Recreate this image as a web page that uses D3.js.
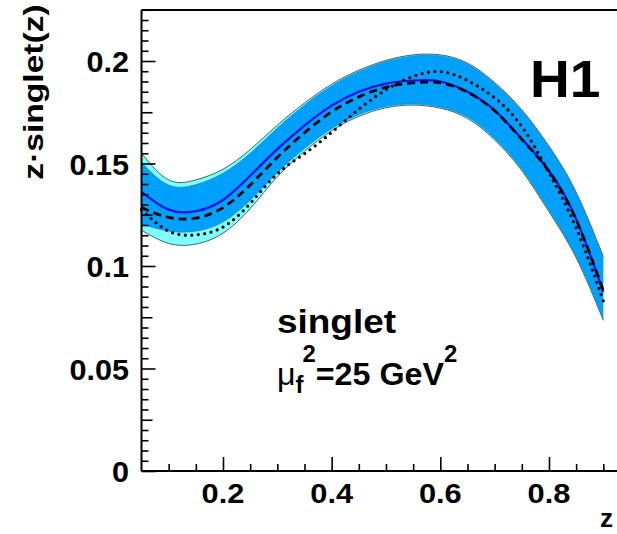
<!DOCTYPE html>
<html><head><meta charset="utf-8">
<script src="https://cdn.jsdelivr.net/npm/d3@7"></script>
<style>
html,body{margin:0;padding:0;background:#fff;overflow:hidden}
text{font-family:"Liberation Sans",Arial,Helvetica,sans-serif;font-weight:bold;fill:#000}
</style></head><body>
<svg id="chart" width="617" height="534"></svg>
<script>
const zVals   = [0.05,0.10,0.15,0.20,0.25,0.30,0.35,0.40,0.45,0.50,0.55,0.60,0.65,0.70,0.75,0.80,0.85,0.90];
const central = [0.1362,0.1275,0.1267,0.1322,0.1440,0.1570,0.1685,0.1782,0.1850,0.1890,0.1905,0.1900,0.1850,0.1760,0.1620,0.1465,0.1230,0.0873];
const outerUp = [0.1550,0.1420,0.1420,0.1472,0.1568,0.1687,0.1795,0.1887,0.1955,0.2003,0.2030,0.2030,0.1990,0.1895,0.1762,0.1585,0.1360,0.1046];
const innerUp = [0.1505,0.1395,0.1397,0.1452,0.1550,0.1673,0.1785,0.1879,0.1949,0.1998,0.2025,0.2025,0.1985,0.1890,0.1757,0.1580,0.1355,0.1040];
const innerLo = [0.1205,0.1170,0.1170,0.1215,0.1320,0.1455,0.1573,0.1670,0.1738,0.1778,0.1790,0.1775,0.1727,0.1622,0.1472,0.1272,0.1047,0.0742];
const outerLo = [0.1175,0.1110,0.1107,0.1160,0.1280,0.1435,0.1560,0.1660,0.1730,0.1772,0.1785,0.1770,0.1720,0.1615,0.1465,0.1265,0.1040,0.0735];
const dashed  = [0.1285,0.1237,0.1234,0.1285,0.1395,0.1530,0.1650,0.1752,0.1825,0.1872,0.1893,0.1893,0.1848,0.1757,0.1618,0.1462,0.1225,0.0880];
const dotted  = [0.1275,0.1170,0.1152,0.1190,0.1305,0.1450,0.1548,0.1652,0.1765,0.1860,0.1925,0.1948,0.1905,0.1820,0.1680,0.1455,0.1185,0.0830];
const xMajorTicks = [0.2,0.4,0.6,0.8];
const xTickLabels = ["0.2","0.4","0.6","0.8"];
const yMajorTicks = [0,0.05,0.1,0.15,0.2];
const yTickLabels = ["0","0.05","0.1","0.15","0.2"];

const svg = d3.select("#chart");
const L = 141.5, B = 471, T = 10;
const x = d3.scaleLinear().domain([0.05,0.95]).range([L, L + 0.9*543.3]);
const y = d3.scaleLinear().domain([0,0.225]).range([B, B - 0.225*2050]);

const band = (up, lo) => d3.area().x((d,i)=>x(zVals[i])).y0((d,i)=>y(lo[i])).y1((d,i)=>y(up[i])).curve(d3.curveNatural)(zVals);
const line = arr => d3.line().x((d,i)=>x(zVals[i])).y((d,i)=>y(arr[i])).curve(d3.curveNatural)(zVals);

svg.append("path").attr("d", band(outerUp, outerLo)).attr("fill","#80ffff").attr("stroke","none");
svg.append("path").attr("d", line(outerUp)).attr("fill","none").attr("stroke","#3a6a6a").attr("stroke-width",1);
svg.append("path").attr("d", line(outerLo)).attr("fill","none").attr("stroke","#3a6a6a").attr("stroke-width",1);
svg.append("path").attr("d", band(innerUp, innerLo)).attr("fill","#00a0ff").attr("stroke","none");
svg.append("path").attr("d", line(innerUp)).attr("fill","none").attr("stroke","#2a7aa0").attr("stroke-width",0.6);
svg.append("path").attr("d", line(innerLo)).attr("fill","none").attr("stroke","#2a7aa0").attr("stroke-width",0.6);
svg.append("path").attr("d", line(central)).attr("fill","none").attr("stroke","#1010e8").attr("stroke-width",2.2);
svg.append("path").attr("d", line(dashed)).attr("fill","none").attr("stroke","#000").attr("stroke-width",2.8).attr("stroke-dasharray","8,5");
svg.append("path").attr("d", line(dotted)).attr("fill","none").attr("stroke","#000").attr("stroke-width",3.2).attr("stroke-dasharray","0,6.5").attr("stroke-linecap","round");

// axes
const xAxis = d3.axisBottom(x).tickValues(d3.range(0.1,0.951,0.05)).tickSize(-7).tickFormat("");
const gx = svg.append("g").attr("transform",`translate(0,${B})`).call(xAxis);
gx.select(".domain").remove();
gx.selectAll(".tick line").attr("stroke","#000").attr("stroke-width",1.6).attr("y2", d => xMajorTicks.some(m=>Math.abs(m-d)<1e-6) ? -14 : -7);

const yAxis = d3.axisLeft(y).tickValues(d3.range(0,0.2251,0.005)).tickSize(-7).tickFormat("");
const gy = svg.append("g").attr("transform",`translate(${L},0)`).call(yAxis);
gy.select(".domain").remove();
gy.selectAll(".tick line").attr("stroke","#000").attr("stroke-width",1.6).attr("x2", d => {
  const r = Math.round(d*1000);
  if (r % 50 === 0) return 14;
  if (r % 25 === 0) return 11;
  return 7;
});

svg.append("line").attr("x1",L).attr("x2",617).attr("y1",B).attr("y2",B).attr("stroke","#000").attr("stroke-width",2);
svg.append("line").attr("x1",L).attr("x2",L).attr("y1",T).attr("y2",B).attr("stroke","#000").attr("stroke-width",2);
svg.append("line").attr("x1",L).attr("x2",617).attr("y1",T).attr("y2",T).attr("stroke","#000").attr("stroke-width",2);

// stretched text helper (reference font is a little wider than Liberation Sans)
function stext(px, py, size, sx, anchor, str, rot) {
  const tr = `translate(${px},${py})` + (rot ? ` rotate(${rot})` : "") + ` scale(${sx},1)`;
  return svg.append("text").attr("transform", tr).attr("text-anchor", anchor || "start").attr("font-size", size).text(str || null);
}

// tick labels
xMajorTicks.forEach((v,i) => stext(x(v), 503, 28, 1.1, "middle", xTickLabels[i]));
yMajorTicks.forEach((v,i) => stext(129, y(v)+11, 30, 1.02, "end", yTickLabels[i]));

// axis titles
stext(43, 92, 28, 1.2, "middle", "z·singlet(z)", -90);
stext(600, 527, 25, 1.05, "start", "z");

// labels
stext(530, 97, 51, 1.08, "start", "H1");
stext(277, 333, 33, 1.12, "start", "singlet");
const t2 = stext(277, 385, 31, 1.04, "start", null);
t2.append("tspan").attr("font-weight","normal").text("μ");
t2.append("tspan").attr("dy",8).attr("font-size",23).text("f");
t2.append("tspan").attr("dx",-1).attr("dy",-31).attr("font-size",23).text("2");
t2.append("tspan").attr("dy",23).text("=25 GeV");
t2.append("tspan").attr("dy",-23).attr("font-size",23).text("2");
</script>
</body></html>
